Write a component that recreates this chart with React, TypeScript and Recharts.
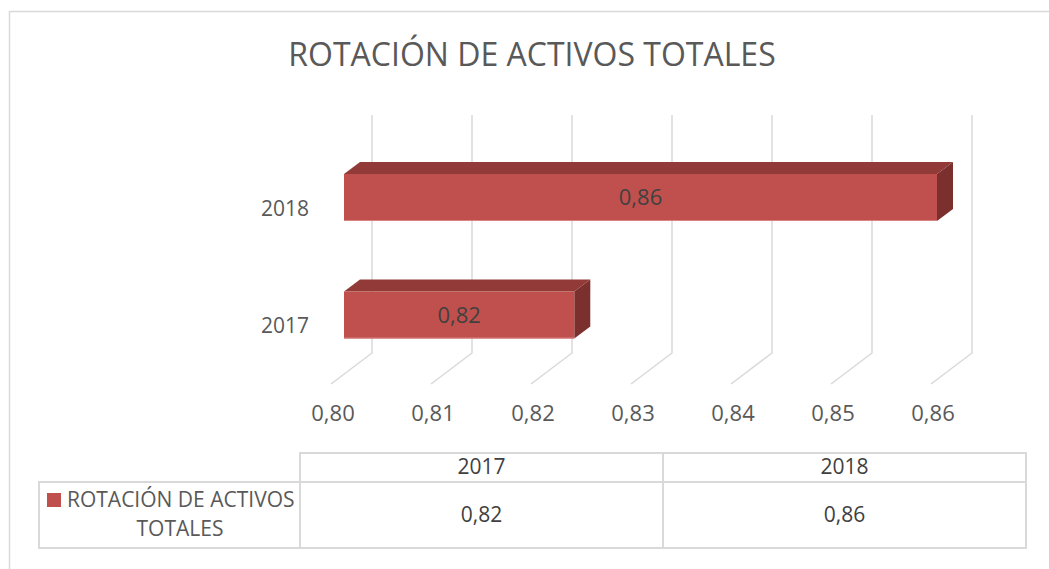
import React from 'react';
import { BarChart, Bar, XAxis, YAxis, CartesianGrid, LabelList } from 'recharts';

const TITLE = 'ROTACIÓN DE ACTIVOS TOTALES';
const SERIES_NAME = 'ROTACIÓN DE ACTIVOS TOTALES';
const YEARS = ['2017', '2018'];
const VALUES = [0.8233, 0.86];
const X_TICKS = [0.8, 0.81, 0.82, 0.83, 0.84, 0.85, 0.86];

const FONT = '"Open Sans", "Liberation Sans", sans-serif';
const FRONT = '#C0504D';
const TOP = '#923A38';
const SIDE = '#7B302E';
const GRID = '#D9D9D9';
const TEXT = '#595959';
const LABEL = '#404040';

const fmt = (v: number) => v.toFixed(2).replace('.', ',');

// chart rows top-to-bottom: newest year on top
const chartData = YEARS.map((y, i) => ({ year: y, value: VALUES[i] })).reverse();

// 3D projection constants (style only)
const DEPTH_X = 16;
const DEPTH_Y = 12;
const BAR_SHIFT = 11;
const BAR_SCALE = 593 / 600;

const Bar3D = (props: any) => {
  const { x, y, width, height } = props;
  const L = x + BAR_SHIFT;
  const R = x + BAR_SHIFT + width * BAR_SCALE;
  const T = y;
  const B = y + height;
  return (
    <g>
      <polygon
        points={`${L},${T} ${R},${T} ${R + DEPTH_X},${T - DEPTH_Y} ${L + DEPTH_X},${T - DEPTH_Y}`}
        fill={TOP}
      />
      <polygon
        points={`${R},${T} ${R + DEPTH_X},${T - DEPTH_Y} ${R + DEPTH_X},${B - DEPTH_Y} ${R},${B}`}
        fill={SIDE}
      />
      <rect x={L} y={T} width={R - L} height={B - T} fill={FRONT} />
      <line x1={L} y1={B - 0.5} x2={R} y2={B - 0.5} stroke="#D98280" strokeWidth={1} />
    </g>
  );
};

const BarLabel = (props: any) => {
  const { x, y, width, height, value } = props;
  const L = x + BAR_SHIFT;
  const R = x + BAR_SHIFT + width * BAR_SCALE;
  return (
    <text
      x={(L + R) / 2}
      y={y + height / 2}
      dy="0.35em"
      textAnchor="middle"
      fill={LABEL}
      fontFamily={FONT}
      fontSize={22}
    >
      {fmt(value)}
    </text>
  );
};

const GridLine3D = (props: any) => {
  const { x1, y1, y2, index } = props;
  const pts = `${x1 + 39},${y1 - 24} ${x1 + 39},${y2 - 21} ${x1 - 2},${y2 + 10}`;
  return <polyline key={`g-${index}-${x1}`} points={pts} fill="none" stroke={GRID} strokeWidth={1.5} />;
};

const XTick = (props: any) => {
  const { x, y, payload } = props;
  return (
    <text x={x} y={y + 39} dy="0.35em" textAnchor="middle" fill={TEXT} fontFamily={FONT} fontSize={22}>
      {fmt(payload.value)}
    </text>
  );
};

const YTick = (props: any) => {
  const { x, y, payload } = props;
  return (
    <text x={x} y={y + 10.5} dy="0.35em" textAnchor="end" fill={TEXT} fontFamily={FONT} fontSize={21}>
      {payload.value}
    </text>
  );
};

const Overlay = () => {
  const tableLeft = 39;
  const headLeft = 300;
  const mid = 663;
  const right = 1026;
  const headTop = 453;
  const rowTop = 482;
  const bottom = 548;
  const colCenters = [(headLeft + mid) / 2, (mid + right) / 2];
  const words = SERIES_NAME.split(' ');
  const line1 = words.slice(0, words.length - 1).join(' ');
  const line2 = words[words.length - 1];
  return (
    <svg width={1049} height={569} style={{ position: 'absolute', left: 0, top: 0 }}>
      <rect x={9.5} y={11.5} width={1200} height={700} fill="#ffffff" stroke={GRID} strokeWidth={1.5} />
      <text x={532} y={55} dy="0.35em" textAnchor="middle" fill={TEXT} fontFamily={FONT} fontSize={32}>
        {TITLE}
      </text>
      {/* data table */}
      <g stroke={GRID} strokeWidth={2} fill="none">
        <rect x={headLeft} y={headTop} width={right - headLeft} height={bottom - headTop} />
        <rect x={tableLeft} y={rowTop} width={right - tableLeft} height={bottom - rowTop} />
        <line x1={mid} y1={headTop} x2={mid} y2={bottom} />
      </g>
      {YEARS.map((yr, i) => (
        <text key={`h-${yr}`} x={colCenters[i]} y={467} dy="0.35em" textAnchor="middle" fill={LABEL} fontFamily={FONT} fontSize={21}>
          {yr}
        </text>
      ))}
      {VALUES.map((v, i) => (
        <text key={`v-${i}`} x={colCenters[i]} y={515} dy="0.35em" textAnchor="middle" fill={LABEL} fontFamily={FONT} fontSize={21}>
          {fmt(v)}
        </text>
      ))}
      <rect x={47} y={493} width={14} height={14} fill={FRONT} />
      <text x={67} y={500} dy="0.35em" textAnchor="start" fill={TEXT} fontFamily={FONT} fontSize={21}>
        {line1}
      </text>
      <text x={180} y={529} dy="0.35em" textAnchor="middle" fill={TEXT} fontFamily={FONT} fontSize={21}>
        {line2}
      </text>
    </svg>
  );
};

export default function App() {
  return (
    <div style={{ position: 'absolute', left: 0, top: 0, width: 1049, height: 569, background: '#fff' }}>
      <Overlay />
      <div style={{ position: 'absolute', left: 0, top: 0 }}>
        <BarChart
          width={1049}
          height={569}
          data={chartData}
          layout="vertical"
          margin={{ top: 139, right: 116, bottom: 0, left: 0 }}
          barSize={47}
        >
          <CartesianGrid horizontal={false} vertical={GridLine3D} />
          <XAxis
            type="number"
            domain={[0.8, 0.86]}
            ticks={X_TICKS}
            interval={0}
            axisLine={false}
            tickLine={false}
            tickSize={0}
            tickMargin={0}
            height={195}
            tick={XTick}
          />
          <YAxis
            type="category"
            dataKey="year"
            width={333}
            axisLine={false}
            tickLine={false}
            tickSize={0}
            tickMargin={24}
            tick={YTick}
          />
          <Bar dataKey="value" shape={Bar3D} isAnimationActive={false}>
            <LabelList dataKey="value" content={BarLabel} />
          </Bar>
        </BarChart>
      </div>
    </div>
  );
}
